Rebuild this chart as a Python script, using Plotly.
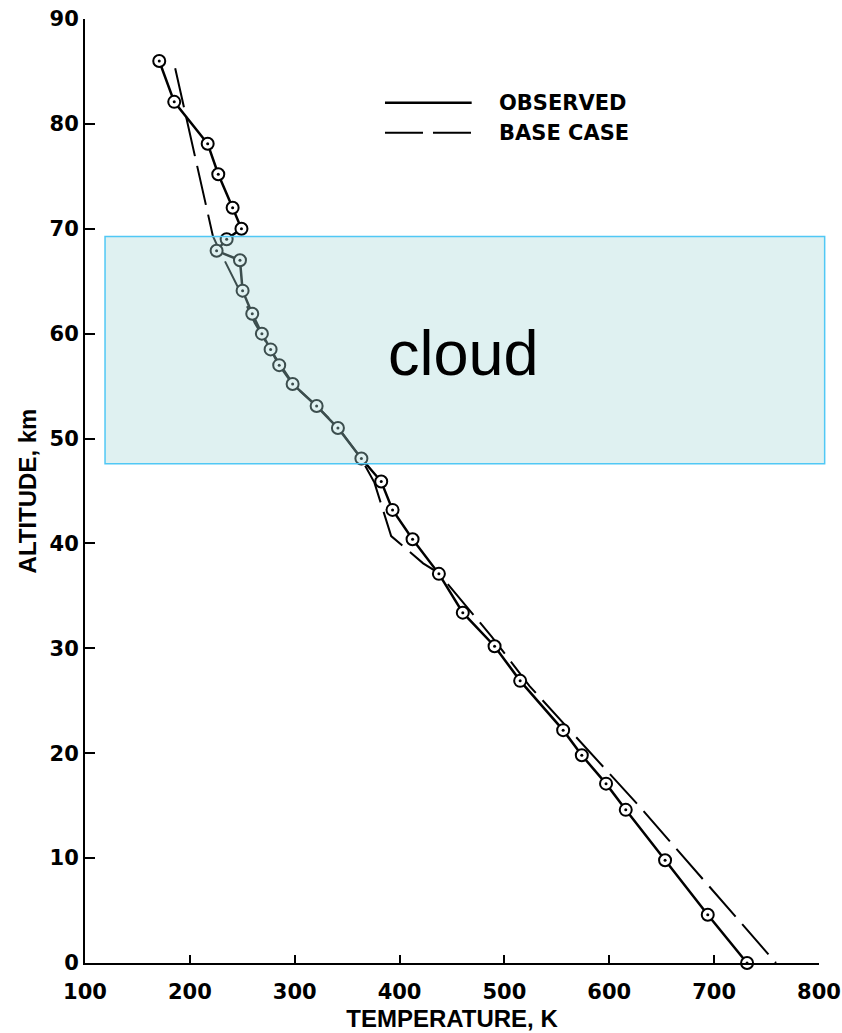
import plotly.graph_objects as go

# Observed profile (temperature K, altitude km), in drawing order
obs_T = [170.8, 185.1, 217.0, 227.1, 240.8, 249.2, 235.1, 225.5, 247.8, 250.3, 259.5,
         268.7, 277.0, 285.2, 298.0, 320.9, 341.2, 363.6, 382.5, 393.3, 412.4, 437.5,
         460.3, 490.6, 515.0, 556.0, 573.8, 596.9, 615.7, 653.2, 693.9, 731.4]
obs_alt = [86.0, 82.1, 78.1, 75.2, 72.0, 70.0, 69.0, 67.9, 67.0, 64.1, 61.9,
           60.0, 58.5, 57.0, 55.2, 53.1, 51.0, 48.1, 45.9, 43.2, 40.4, 37.1,
           33.4, 30.2, 26.9, 22.2, 19.8, 17.1, 14.6, 9.8, 4.6, 0.0]

# Base case model profile
base_T = [186.0, 198.0, 222.0, 228.0, 248.0, 262.0, 278.0, 300.0, 322.0, 342.0,
          364.0, 376.0, 392.0, 422.5, 437.0, 488.0, 524.0, 629.0, 759.0]
base_alt = [85.3, 79.9, 69.3, 68.0, 64.0, 61.0, 58.3, 55.0, 53.0, 51.0,
            48.0, 45.8, 40.7, 38.1, 37.2, 31.1, 26.4, 14.9, 0.0]

# Cloud layer bounds
cloud_T = [119.1, 805.4]
cloud_alt = [47.6, 69.26]

x_ticks = [100, 200, 300, 400, 500, 600, 700, 800]
y_ticks = [0, 10, 20, 30, 40, 50, 60, 70, 80, 90]
x_range = [100, 800]
y_range = [0, 90]

fig = go.Figure()
fig.add_trace(go.Scatter(x=base_T, y=base_alt, mode="lines",
                         line=dict(color="black", width=2, dash="40px,10px"),
                         name="BASE CASE", showlegend=False))
fig.add_trace(go.Scatter(x=obs_T, y=obs_alt, mode="lines",
                         line=dict(color="black", width=2.5),
                         name="OBSERVED", showlegend=False))
fig.add_trace(go.Scatter(x=obs_T, y=obs_alt, mode="markers", cliponaxis=False,
                         marker=dict(symbol="circle", size=12, color="white",
                                     line=dict(color="black", width=2)),
                         showlegend=False))
fig.add_trace(go.Scatter(x=obs_T, y=obs_alt, mode="markers", cliponaxis=False,
                         marker=dict(symbol="circle", size=3, color="black"),
                         showlegend=False))

xspan = x_range[1] - x_range[0]
fig.add_shape(type="rect", xref="paper", yref="y", layer="above",
              x0=(cloud_T[0] - x_range[0]) / xspan, x1=(cloud_T[1] - x_range[0]) / xspan,
              y0=cloud_alt[0], y1=cloud_alt[1],
              fillcolor="rgba(167,216,216,0.36)",
              line=dict(color="rgb(80,200,245)", width=1.5))

fig.add_annotation(x=461.3, y=58.2, xref="x", yref="y", text="cloud", showarrow=False,
                   font=dict(family="Liberation Sans, Arial", size=63, color="black"),
                   xanchor="center", yanchor="middle")

# Legend (drawn manually to match long sample lines)
leg_font = dict(family="DejaVu Sans", size=21, color="black", weight="bold")
fig.add_shape(type="line", xref="paper", yref="paper", x0=0.4087, x1=0.5268,
              y0=0.9114, y1=0.9114, line=dict(color="black", width=2.5))
fig.add_shape(type="line", xref="paper", yref="paper", x0=0.4087, x1=0.5268,
              y0=0.8796, y1=0.8796, line=dict(color="black", width=2, dash="38px,10px"))
fig.add_annotation(x=0.5609, y=0.9114, xref="paper", yref="paper", text="OBSERVED",
                   showarrow=False, xanchor="left", yanchor="middle", font=leg_font)
fig.add_annotation(x=0.5609, y=0.8796, xref="paper", yref="paper", text="BASE CASE",
                   showarrow=False, xanchor="left", yanchor="middle", font=leg_font)

tick_font = dict(family="DejaVu Sans", size=21, color="black", weight="bold")
title_font = dict(family="Liberation Sans, Arial", size=24, color="black", weight="bold")

fig.update_xaxes(range=x_range, tickvals=x_ticks, ticktext=[str(v) for v in x_ticks],
                 showline=True, linecolor="black", linewidth=2, ticks="inside",
                 ticklen=8, tickwidth=1.5, tickcolor="black", showgrid=False,
                 zeroline=False, tickfont=tick_font, ticklabelstandoff=9,
                 title=dict(text="TEMPERATURE, K", font=title_font, standoff=7))
fig.update_yaxes(range=y_range, tickvals=y_ticks, ticktext=[str(v) for v in y_ticks],
                 showline=True, linecolor="black", linewidth=2, ticks="inside",
                 ticklen=10, tickwidth=1.5, tickcolor="black", showgrid=False,
                 zeroline=False, tickfont=tick_font,
                 title=dict(text="ALTITUDE, km", font=title_font, standoff=6))

fig.update_layout(width=842, height=1033, margin=dict(l=85, r=23, t=19, b=69.5, autoexpand=False),
                  plot_bgcolor="white", paper_bgcolor="white", showlegend=False)

fig.write_html("out.html")
